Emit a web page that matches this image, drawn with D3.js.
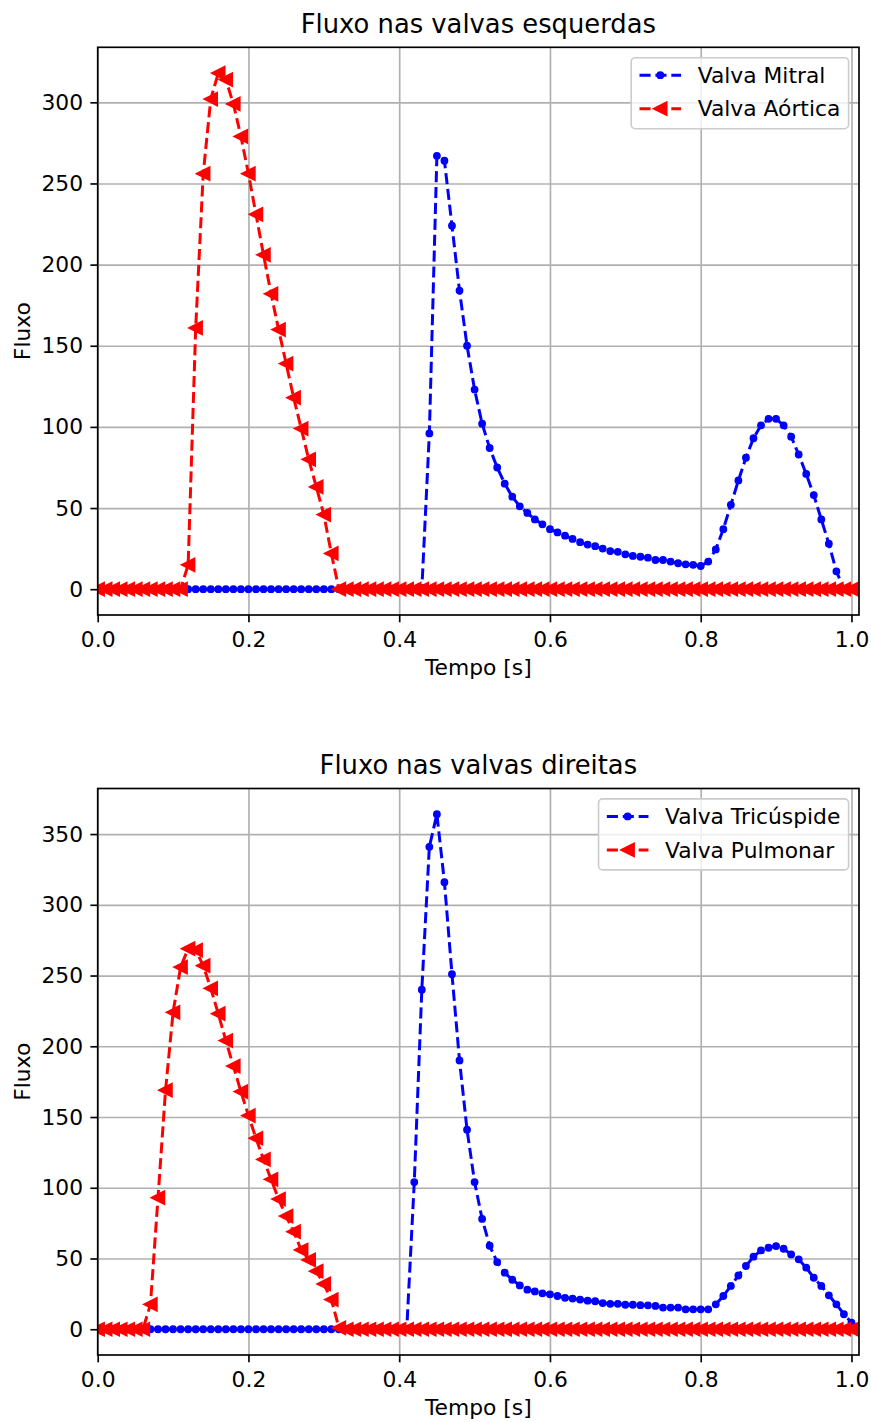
<!DOCTYPE html>
<html>
<head>
<meta charset="utf-8">
<script src="https://cdn.jsdelivr.net/npm/d3@7"></script>
<style>
body { margin: 0; background: #fff; }
text { font-family: "DejaVu Sans", sans-serif; fill: #000; }
</style>
</head>
<body>
<div id="chart"></div>
<script>
// tempo [s], one sample every 0.01 s
var tempo = [
  0.00, 0.01, 0.02, 0.03, 0.04, 0.05, 0.06, 0.07, 0.08, 0.09,
  0.10, 0.11, 0.12, 0.13, 0.14, 0.15, 0.16, 0.17, 0.18, 0.19,
  0.20, 0.21, 0.22, 0.23, 0.24, 0.25, 0.26, 0.27, 0.28, 0.29,
  0.30, 0.31, 0.32, 0.33, 0.34, 0.35, 0.36, 0.37, 0.38, 0.39,
  0.40, 0.41, 0.42, 0.43, 0.44, 0.45, 0.46, 0.47, 0.48, 0.49,
  0.50, 0.51, 0.52, 0.53, 0.54, 0.55, 0.56, 0.57, 0.58, 0.59,
  0.60, 0.61, 0.62, 0.63, 0.64, 0.65, 0.66, 0.67, 0.68, 0.69,
  0.70, 0.71, 0.72, 0.73, 0.74, 0.75, 0.76, 0.77, 0.78, 0.79,
  0.80, 0.81, 0.82, 0.83, 0.84, 0.85, 0.86, 0.87, 0.88, 0.89,
  0.90, 0.91, 0.92, 0.93, 0.94, 0.95, 0.96, 0.97, 0.98, 0.99,
  1.00, 1.01
];

var mitral = [
  0, 0, 0, 0, 0, 0, 0, 0, 0, 0,
  0, 0, 0, 0, 0, 0, 0, 0, 0, 0,
  0, 0, 0, 0, 0, 0, 0, 0, 0, 0,
  0, 0, 0, 0, 0, 0, 0, 0, 0, 0,
  0, 0, 0, 0, 96, 267, 264, 224, 184, 150,
  123, 102, 87, 75, 65, 57, 51, 47, 43, 40,
  37, 35, 33, 31, 29, 27.5, 26.5, 25, 23.5, 23,
  21.5, 20.5, 20, 19.4, 18, 18, 17, 16, 15.3, 15,
  14.3, 17, 24.5, 37, 52, 67, 81, 93, 101, 105,
  105, 101, 94, 83, 71, 58, 43, 28, 11, 0,
  0, 0
];

var aortica = [
  0, 0, 0, 0, 0, 0, 0, 0, 0, 0,
  0, 0, 15, 161, 256, 302, 318, 314, 299, 279,
  256, 231, 206, 182, 160, 139, 118, 99, 80, 63,
  46, 22, 0, 0, 0, 0, 0, 0, 0, 0,
  0, 0, 0, 0, 0, 0, 0, 0, 0, 0,
  0, 0, 0, 0, 0, 0, 0, 0, 0, 0,
  0, 0, 0, 0, 0, 0, 0, 0, 0, 0,
  0, 0, 0, 0, 0, 0, 0, 0, 0, 0,
  0, 0, 0, 0, 0, 0, 0, 0, 0, 0,
  0, 0, 0, 0, 0, 0, 0, 0, 0, 0,
  0, 0
];

var tricuspide = [
  0, 0, 0, 0, 0, 0, 0, 0, 0, 0,
  0, 0, 0, 0, 0, 0, 0, 0, 0, 0,
  0, 0, 0, 0, 0, 0, 0, 0, 0, 0,
  0, 0, 0, 0, 0, 0, 0, 0, 0, 0,
  0, 0, 104, 240, 341, 364, 316, 251, 190, 141,
  104, 78, 59, 47.5, 40, 35, 31, 28, 26.7, 25.4,
  24.7, 23.5, 22.2, 21.7, 21, 20.2, 19.8, 18.5, 18, 18,
  17.3, 17.3, 17, 16.9, 16.5, 15.3, 15.3, 15.3, 14.1, 14.1,
  14.1, 14.1, 17.6, 23.5, 30.6, 38, 44.7, 51.3, 55.7, 57.6,
  58.8, 56.9, 52.9, 49.4, 43.5, 36.4, 30.6, 24, 17.6, 10.6,
  4.7, 0.5
];

var pulmonar = [
  0, 0, 0, 0, 0, 0, 0, 17.6, 93, 169,
  224, 256, 269, 268, 257, 241, 223, 204, 186, 168,
  151, 135, 120, 106, 92, 80, 69, 56, 49, 41,
  32, 21, 1, 0, 0, 0, 0, 0, 0, 0,
  0, 0, 0, 0, 0, 0, 0, 0, 0, 0,
  0, 0, 0, 0, 0, 0, 0, 0, 0, 0,
  0, 0, 0, 0, 0, 0, 0, 0, 0, 0,
  0, 0, 0, 0, 0, 0, 0, 0, 0, 0,
  0, 0, 0, 0, 0, 0, 0, 0, 0, 0,
  0, 0, 0, 0, 0, 0, 0, 0, 0, 0,
  0, 0
];

var xTicks = [0.0, 0.2, 0.4, 0.6, 0.8, 1.0];
var yTicksTop = [0, 50, 100, 150, 200, 250, 300];
var yTicksBottom = [0, 50, 100, 150, 200, 250, 300, 350];

var fs = 21.8;        // ~10pt, a bit wider like the Agg text
var lw = 3.0;         // 1.5pt line
var thin = 1.67;      // 0.8pt

var svg = d3.select("#chart").append("svg")
  .attr("width", 871)
  .attr("height", 1422);

var left = 97.7, right = 859;
var x = d3.scaleLinear().domain([0, 1.01]).range([left, right]);

var triangle = "M-6.25,0L6.25,-6.25L6.25,6.25Z";

function drawMarker(sel, s) {
  if (s.marker === "dot") {
    sel.append("circle").attr("r", 3.2)
      .attr("fill", s.color).attr("stroke", s.color).attr("stroke-width", 1.4);
  } else {
    sel.append("path").attr("d", triangle)
      .attr("fill", s.color).attr("stroke", s.color).attr("stroke-width", 2);
  }
}

function panel(id, top, bottom, title, series, yTicks) {
  var maxV = d3.max(series, s => d3.max(s.values));
  var y = d3.scaleLinear()
    .domain([-0.05 * maxV, 1.05 * maxV])
    .range([bottom, top]);
  var h = bottom - top;

  var g = svg.append("g");

  g.append("clipPath").attr("id", id)
    .append("rect")
    .attr("x", left).attr("y", top)
    .attr("width", right - left).attr("height", h);

  // grid
  var gx = g.append("g")
    .attr("transform", "translate(0," + bottom + ")")
    .call(d3.axisBottom(x).tickValues(xTicks).tickSize(-h).tickFormat(""));
  var gy = g.append("g")
    .attr("transform", "translate(" + left + ",0)")
    .call(d3.axisLeft(y).tickValues(yTicks).tickSize(-(right - left)).tickFormat(""));
  [gx, gy].forEach(a => {
    a.select(".domain").remove();
    a.selectAll("line").attr("stroke", "#b0b0b0").attr("stroke-width", thin);
  });

  // series
  var plot = g.append("g").attr("clip-path", "url(#" + id + ")");
  series.forEach(s => {
    var line = d3.line()
      .x((d, i) => x(tempo[i]))
      .y(d => y(d));
    plot.append("path")
      .datum(s.values)
      .attr("d", line)
      .attr("fill", "none")
      .attr("stroke", s.color)
      .attr("stroke-width", lw)
      .attr("stroke-dasharray", "11.1,4.8");
    plot.append("g").selectAll("g")
      .data(s.values)
      .enter()
      .append("g")
      .attr("transform", (d, i) => "translate(" + x(tempo[i]) + "," + y(d) + ")")
      .each(function () { drawMarker(d3.select(this), s); });
  });

  // spines
  g.append("rect")
    .attr("x", left).attr("y", top)
    .attr("width", right - left).attr("height", h)
    .attr("fill", "none").attr("stroke", "#000").attr("stroke-width", thin);

  // axes
  var ax = g.append("g")
    .attr("transform", "translate(0," + bottom + ")")
    .call(d3.axisBottom(x).tickValues(xTicks).tickSize(7.3).tickPadding(9).tickFormat(d3.format(".1f")));
  var ay = g.append("g")
    .attr("transform", "translate(" + left + ",0)")
    .call(d3.axisLeft(y).tickValues(yTicks).tickSize(7.3).tickPadding(7.3).tickFormat(d3.format("d")));
  [ax, ay].forEach(a => {
    a.select(".domain").remove();
    a.selectAll("line").attr("stroke", "#000").attr("stroke-width", thin);
    a.selectAll("text")
      .style("font-family", "DejaVu Sans")
      .style("font-size", fs + "px")
      .attr("fill", "#000");
  });

  g.append("text")
    .attr("x", (left + right) / 2)
    .attr("y", top - 14.3)
    .attr("text-anchor", "middle")
    .style("font-size", "25.8px")
    .text(title);

  g.append("text")
    .attr("x", (left + right) / 2)
    .attr("y", bottom + 60)
    .attr("text-anchor", "middle")
    .style("font-size", fs + "px")
    .text("Tempo [s]");

  g.append("text")
    .attr("transform", "translate(30," + (top + h / 2) + ") rotate(-90)")
    .attr("text-anchor", "middle")
    .style("font-size", fs + "px")
    .text("Fluxo");

  // legend
  var leg = g.append("g");
  var box = leg.append("rect");
  var items = leg.selectAll(".item")
    .data(series)
    .enter()
    .append("g")
    .attr("class", "item");
  var labels = items.append("text")
    .attr("x", 8.3 + 41.6 + 16.6)
    .attr("y", (d, i) => 17.5 + i * 33.5 + 7.8)
    .style("font-size", fs + "px")
    .text(d => d.name);
  var tw = d3.max(labels.nodes(), n => n.getComputedTextLength());
  var bw = 8.3 + 41.6 + 16.6 + tw + 8.3;
  var bh = 71;
  leg.attr("transform", "translate(" + (right - 10.4 - bw) + "," + (top + 10.4) + ")");
  box.attr("width", bw).attr("height", bh)
    .attr("rx", 4.2)
    .attr("fill", "#fff").attr("fill-opacity", 0.8)
    .attr("stroke", "#cccccc").attr("stroke-width", 1.6);
  items.append("line")
    .attr("x1", 8.3).attr("x2", 8.3 + 41.6)
    .attr("y1", (d, i) => 17.5 + i * 33.5)
    .attr("y2", (d, i) => 17.5 + i * 33.5)
    .attr("stroke", d => d.color)
    .attr("stroke-width", lw)
    .attr("stroke-dasharray", "11.1,4.8");
  items.append("g")
    .attr("transform", (d, i) => "translate(" + (8.3 + 20.8) + "," + (17.5 + i * 33.5) + ")")
    .each(function (d) { drawMarker(d3.select(this), d); });
}

panel("clipTop", 47.3, 615, "Fluxo nas valvas esquerdas", [
  {name: "Valva Mitral", values: mitral, color: "#0000ff", marker: "dot"},
  {name: "Valva Aórtica", values: aortica, color: "#ff0000", marker: "tri"}
], yTicksTop);

panel("clipBottom", 788.5, 1355, "Fluxo nas valvas direitas", [
  {name: "Valva Tricúspide", values: tricuspide, color: "#0000ff", marker: "dot"},
  {name: "Valva Pulmonar", values: pulmonar, color: "#ff0000", marker: "tri"}
], yTicksBottom);
</script>
</body>
</html>
